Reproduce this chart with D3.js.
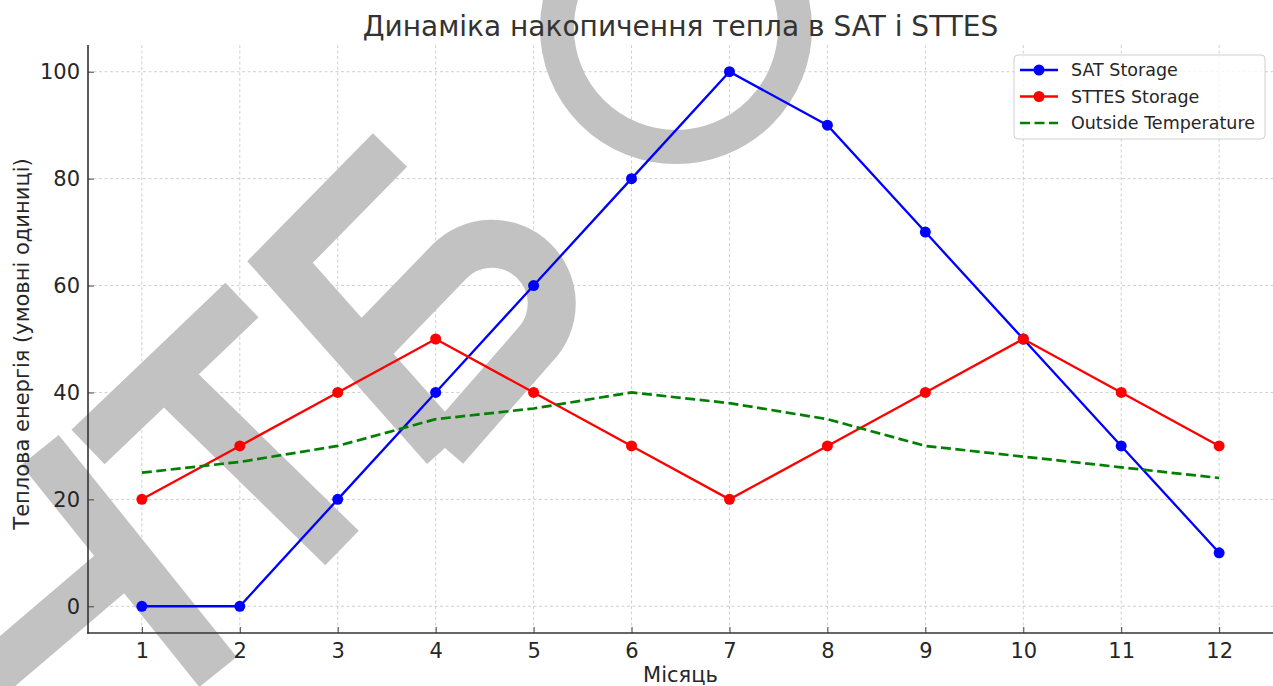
<!DOCTYPE html>
<html>
<head>
<meta charset="utf-8">
<script src="https://cdn.jsdelivr.net/npm/d3@7"></script>
<style>
  body { margin: 0; background: #fff; }
  svg { display: block; }
  text { font-family: "DejaVu Sans", sans-serif; }
</style>
</head>
<body>
<svg id="chart" width="1273" height="686"></svg>
<script>
// ---- data ----
const months = [1, 2, 3, 4, 5, 6, 7, 8, 9, 10, 11, 12];
const satStorage = [0, 0, 20, 40, 60, 80, 100, 90, 70, 50, 30, 10];
const sttesStorage = [20, 30, 40, 50, 40, 30, 20, 30, 40, 50, 40, 30];
const outsideTemperature = [25, 27, 30, 35, 37, 40, 38, 35, 30, 28, 26, 24];
const yTickValues = [0, 20, 40, 60, 80, 100];
const seriesNames = ["SAT Storage", "STTES Storage", "Outside Temperature"];
const titleText = "Динаміка накопичення тепла в SAT і STTES";
const xLabelText = "Місяць";
const yLabelText = "Теплова енергія (умовні одиниці)";

// ---- layout ----
const plot = { left: 88, right: 1273, top: 45, bottom: 633 };
const svg = d3.select("#chart");
const textColor = "#262626";

const x = d3.scaleLinear().domain([0.45, 12.55]).range([plot.left, plot.right]);
const y = d3.scaleLinear().domain([-5, 105]).range([plot.bottom, plot.top]);

// ---- grid ----
const grid = svg.append("g").attr("stroke", "#c4c4c4").attr("stroke-width", 0.8)
  .attr("stroke-dasharray", "3,2.5");
grid.selectAll("line.v").data(months).join("line").attr("class", "v")
  .attr("x1", d => x(d)).attr("x2", d => x(d))
  .attr("y1", plot.top).attr("y2", plot.bottom);
grid.selectAll("line.h").data(yTickValues).join("line").attr("class", "h")
  .attr("x1", plot.left).attr("x2", plot.right)
  .attr("y1", d => y(d)).attr("y2", d => y(d));

// ---- background stamp (broad grey strokes behind the data) ----
const stamp = svg.append("g").attr("fill", "none").attr("stroke", "#c2c2c2")
  .attr("stroke-linecap", "butt").attr("stroke-linejoin", "miter");
const stampStrokes = [
  "M40,450 L218,672",
  "M-10,676 L125,561",
  "M88,447 L242,300",
  "M164,374 L342,548",
  "M390,150 L280,262 L445,448",
  "M361,353 L449,262 A59,59 0 0 1 535,345 L445,448"
];
stamp.selectAll("path").data(stampStrokes).join("path")
  .attr("d", d => d).attr("stroke-width", 48);
stamp.append("circle").attr("cx", 676).attr("cy", 28).attr("r", 119)
  .attr("stroke-width", 34);

// ---- axes ----
const xAxis = d3.axisBottom(x).tickValues(months).tickFormat(d3.format("d"))
  .tickSizeInner(-6).tickSizeOuter(0).tickPadding(10);
const yAxis = d3.axisLeft(y).tickValues(yTickValues).tickFormat(d3.format("d"))
  .tickSizeInner(-6).tickSizeOuter(0).tickPadding(8);

const gx = svg.append("g").attr("transform", `translate(0,${plot.bottom})`).call(xAxis);
const gy = svg.append("g").attr("transform", `translate(${plot.left},0)`).call(yAxis);
[gx, gy].forEach(g => {
  g.select(".domain").remove();
  g.selectAll(".tick line").attr("stroke", "#444").attr("stroke-width", 1);
  g.selectAll(".tick text").attr("fill", textColor).attr("font-size", 21)
    .attr("font-family", "DejaVu Sans, sans-serif");
});
gx.selectAll(".tick text").attr("dy", "0.71em");

// spines (left and bottom)
svg.append("line").attr("x1", plot.left).attr("x2", plot.left)
  .attr("y1", plot.top).attr("y2", plot.bottom + 0.8)
  .attr("stroke", "#333").attr("stroke-width", 1.6);
svg.append("line").attr("x1", plot.left - 0.8).attr("x2", plot.right)
  .attr("y1", plot.bottom).attr("y2", plot.bottom)
  .attr("stroke", "#333").attr("stroke-width", 1.6);

// ---- series ----
const series = [
  { name: seriesNames[0], values: satStorage, color: "#0000ff", dash: null, markers: true, width: 2.3 },
  { name: seriesNames[1], values: sttesStorage, color: "#ff0000", dash: null, markers: true, width: 2.3 },
  { name: seriesNames[2], values: outsideTemperature, color: "#008000", dash: "10,4.5", markers: false, width: 2.7 }
];
const line = d3.line().x((d, i) => x(months[i])).y(d => y(d));

series.forEach(s => {
  const g = svg.append("g");
  g.append("path").datum(s.values).attr("d", line)
    .attr("fill", "none").attr("stroke", s.color).attr("stroke-width", s.width)
    .attr("stroke-dasharray", s.dash);
  if (s.markers) {
    g.selectAll("circle").data(s.values).join("circle")
      .attr("cx", (d, i) => x(months[i])).attr("cy", d => y(d))
      .attr("r", 5.5).attr("fill", s.color);
  }
});

// ---- title and axis labels ----
svg.append("text").attr("x", (plot.left + plot.right) / 2).attr("y", 36)
  .attr("text-anchor", "middle").attr("font-size", 28).attr("fill", "#333")
  .text(titleText);
svg.append("text").attr("x", (plot.left + plot.right) / 2).attr("y", 682)
  .attr("text-anchor", "middle").attr("font-size", 21).attr("fill", textColor)
  .text(xLabelText);
svg.append("text").attr("transform", `translate(28.5,${(plot.top + plot.bottom) / 2 + 5}) rotate(-90)`)
  .attr("text-anchor", "middle").attr("font-size", 21).attr("fill", textColor)
  .text(yLabelText);

// ---- legend ----
const legend = svg.append("g").attr("transform", "translate(1014,55)");
legend.append("rect").attr("width", 251).attr("height", 84).attr("rx", 4)
  .attr("fill", "#fff").attr("fill-opacity", 0.8)
  .attr("stroke", "#d0d0d0").attr("stroke-width", 1);
const rowY = d3.scalePoint().domain(seriesNames).range([15, 68]);
series.forEach(s => {
  const ry = rowY(s.name);
  legend.append("line").attr("x1", 6).attr("x2", 44).attr("y1", ry).attr("y2", ry)
    .attr("stroke", s.color).attr("stroke-width", s.width).attr("stroke-dasharray", s.dash);
  if (s.markers) {
    legend.append("circle").attr("cx", 25).attr("cy", ry).attr("r", 5.5).attr("fill", s.color);
  }
  legend.append("text").attr("x", 57).attr("y", ry).attr("dy", "0.35em")
    .attr("font-size", 17.5).attr("fill", textColor).text(s.name);
});
</script>
</body>
</html>
